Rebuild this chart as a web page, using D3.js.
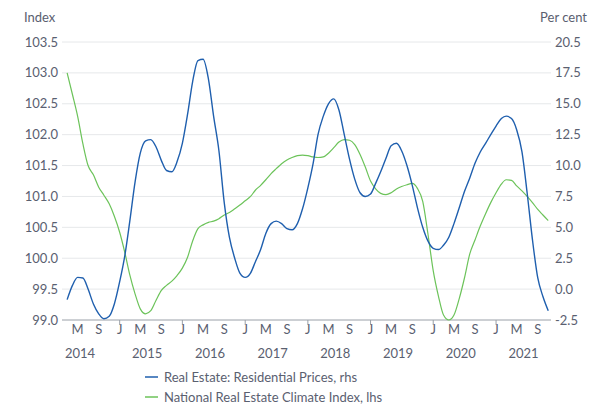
<!DOCTYPE html>
<html><head><meta charset="utf-8">
<script src="https://cdn.jsdelivr.net/npm/d3@7"></script>
<style>body{margin:0;background:#fff}text{font-family:Lato,"Open Sans",sans-serif;fill:#5a6070}</style>
</head><body><svg id="c" width="600" height="413"></svg>
<script>
const startMonth = "2014-03";
const prices = [-0.85,0.3,0.95,0.9,0.0,-1.2,-2.0,-2.4,-2.2,-1.2,0.6,2.8,5.5,8.7,11.0,12.0,12.1,11.5,10.4,9.6,9.5,10.3,11.8,14.2,16.8,18.5,18.6,17.0,14.0,11.2,7.0,4.2,2.5,1.3,0.95,1.3,2.2,3.2,4.5,5.3,5.5,5.3,4.9,4.8,5.3,6.5,8.2,10.2,12.5,14.0,15.0,15.4,14.5,12.5,10.5,8.9,7.8,7.5,7.7,8.6,9.5,10.6,11.6,11.8,11.2,10.0,8.4,6.6,5.0,3.9,3.3,3.2,3.55,4.2,5.3,6.6,7.9,9.0,10.2,11.1,11.8,12.5,13.2,13.8,14.0,13.8,12.9,11.1,7.8,4.0,0.9,-0.6,-1.75];
const climate = [103.0,102.65,102.3,101.85,101.5,101.35,101.15,101.02,100.88,100.68,100.42,100.08,99.73,99.42,99.18,99.1,99.15,99.32,99.48,99.56,99.63,99.72,99.84,100.02,100.28,100.48,100.54,100.58,100.6,100.64,100.7,100.74,100.8,100.86,100.93,101.0,101.1,101.18,101.27,101.37,101.45,101.53,101.59,101.63,101.66,101.67,101.66,101.64,101.63,101.64,101.7,101.79,101.88,101.92,101.91,101.84,101.68,101.48,101.25,101.12,101.05,101.03,101.06,101.12,101.16,101.19,101.21,101.13,100.92,100.4,99.8,99.38,99.08,99.0,99.08,99.35,99.68,100.07,100.3,100.52,100.72,100.9,101.06,101.2,101.27,101.26,101.17,101.09,101.0,100.9,100.79,100.7,100.61];
const leftTicks = [99.0,99.5,100.0,100.5,101.0,101.5,102.0,102.5,103.0,103.5];
const rightTickLabels = ["-2.5","0.0","2.5","5.0","7.5","10.0","12.5","15.0","17.5","20.5"];
const monthLabels = ["J","M","S"];
const years = [2014,2015,2016,2017,2018,2019,2020,2021];
const seriesNames = ["Real Estate: Residential Prices, rhs","National Real Estate Climate Index, lhs"];
const colors = ["#1f5fae","#6cc35a"];

const svg = d3.select("#c");
const parse = d3.timeParse("%Y-%m");
const t0 = parse(startMonth);
const dates = prices.map((_, i) => d3.timeMonth.offset(t0, i));
const x = d3.scaleTime().domain([new Date(2014,0,1), new Date(2021,11,1)]).range([57, 553.4]);
const yL = d3.scaleLinear().domain([99, 103.5]).range([320, 42]);
const yR = d3.scaleLinear().domain([-2.5, 20]).range([320, 42]);
const gx0 = 62, gx1 = 551;

// grid + left labels
leftTicks.forEach((v, i) => {
  const y = yL(v);
  svg.append("line").attr("x1", gx0).attr("x2", gx1).attr("y1", y).attr("y2", y)
    .attr("stroke", i === 0 ? "#9aa0a8" : "#e6e8ea").attr("stroke-width", 1);
  svg.append("text").attr("x", 58).attr("y", y).attr("dy", "0.35em").attr("text-anchor", "end")
    .attr("font-size", 13).text(v.toFixed(1));
  svg.append("text").attr("x", 555).attr("y", y).attr("dy", "0.35em")
    .attr("font-size", 13).text(rightTickLabels[i]);
});
svg.append("text").attr("x", 24).attr("y", 22).attr("font-size", 13).text("Index");
svg.append("text").attr("x", 587).attr("y", 22).attr("text-anchor", "end").attr("font-size", 13).text("Per cent");

// x ticks and labels
years.forEach(yr => {
  if (yr > 2014) svg.append("line").attr("x1", x(new Date(yr,0,1))).attr("x2", x(new Date(yr,0,1)))
    .attr("y1", 320).attr("y2", 325).attr("stroke", "#9aa0a8");
  [0,4,8].forEach((mo, k) => {
    const d = new Date(yr, mo, 1);
    if (yr === 2014 && mo === 0) return;
    if (d > new Date(2021,10,1)) return;
    svg.append("text").attr("x", x(d)).attr("y", 334).attr("text-anchor", "middle")
      .attr("font-size", 13).text(monthLabels[k]);
  });
  const cx = yr === 2014 ? 80 : x(new Date(yr, 5, 10));
  svg.append("text").attr("x", cx).attr("y", 358).attr("text-anchor", "middle")
    .attr("font-size", 13).text(yr);
});

// lines
const lineR = d3.line().x((d, i) => x(dates[i])).y(d => yR(d)).curve(d3.curveMonotoneX);
const lineL = d3.line().x((d, i) => x(dates[i])).y(d => yL(d)).curve(d3.curveMonotoneX);
svg.append("path").attr("d", lineL(climate)).attr("fill", "none").attr("stroke", colors[1]).attr("stroke-width", 1.2);
svg.append("path").attr("d", lineR(prices)).attr("fill", "none").attr("stroke", colors[0]).attr("stroke-width", 1.4);

// legend
seriesNames.forEach((n, i) => {
  const y = 377 + i * 20;
  svg.append("line").attr("x1", 145).attr("x2", 158).attr("y1", y).attr("y2", y).attr("stroke", colors[i]).attr("stroke-width", 1.5);
  svg.append("text").attr("x", 164).attr("y", y).attr("dy", "0.35em").attr("font-size", 13).text(n);
});
</script></body></html>
